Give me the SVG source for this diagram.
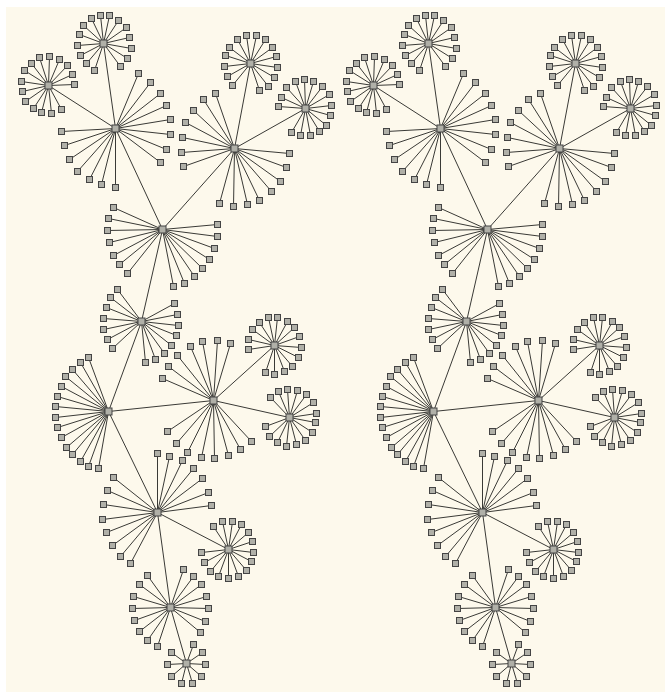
<svg xmlns="http://www.w3.org/2000/svg" xmlns:xlink="http://www.w3.org/1999/xlink" width="665" height="692" viewBox="0 0 665 692">
<style>
.bg{fill:#fdf9ec}
.e{fill:none;stroke:#3a3a36;stroke-width:1}
.n{fill:#b0b0a8;stroke:#444444;stroke-width:1}
</style>
<defs>
<rect id="q" class="n" x="-3" y="-3" width="6" height="6"/>
<rect id="h" class="n" x="-3.5" y="-3.5" width="7" height="7"/>
<g id="tree" transform="translate(0.5,0.5)">
<g id="connectors" class="e">
<path d="M115 128L48 85M115 128L103 43M115 128L162 229M162 229L234 148M234 148L250 63M234 148L305 108M162 229L141 321M141 321L108 411M108 411L213 400M213 400L274 345M213 400L289 417M108 411L157 512M157 512L228 549M157 512L170 607M170 607L186 663"/>
<path d="M115 128L138 73M115 128L150 82M115 128L160 93M115 128L166 105M115 128L170 119M115 128L170 134M115 128L166 149M115 128L160 162M115 128L115 187M115 128L101 184M115 128L89 179M115 128L77 171M115 128L69 159M115 128L64 145M115 128L61 131"/>
<path d="M103 43L100 15M103 43L109 15M103 43L118 20M103 43L126 27M103 43L129 37M103 43L131 48M103 43L127 58M103 43L120 66M103 43L94 70M103 43L86 63M103 43L80 55M103 43L77 45M103 43L79 34M103 43L83 25M103 43L91 18"/>
<path d="M48 85L39 57M48 85L49 56M48 85L59 59M48 85L67 65M48 85L72 74M48 85L74 84M48 85L61 109M48 85L51 113M48 85L41 112M48 85L33 108M48 85L25 101M48 85L22 91M48 85L21 81M48 85L24 70M48 85L31 63"/>
<path d="M162 229L113 207M162 229L108 218M162 229L107 230M162 229L109 242M162 229L113 255M162 229L119 264M162 229L127 273M162 229L217 224M162 229L217 236M162 229L214 248M162 229L209 259M162 229L202 268M162 229L194 276M162 229L184 283M162 229L173 286"/>
<path d="M234 148L215 93M234 148L203 99M234 148L193 110M234 148L185 122M234 148L182 137M234 148L181 152M234 148L183 166M234 148L289 153M234 148L286 167M234 148L280 181M234 148L271 191M234 148L259 200M234 148L247 204M234 148L233 206M234 148L219 203"/>
<path d="M250 63L237 39M250 63L246 35M250 63L256 35M250 63L265 39M250 63L272 47M250 63L276 56M250 63L277 67M250 63L274 77M250 63L268 86M250 63L259 90M250 63L232 85M250 63L227 76M250 63L224 66M250 63L225 55M250 63L229 47"/>
<path d="M305 108L286 87M305 108L295 81M305 108L304 79M305 108L313 81M305 108L322 86M305 108L329 94M305 108L331 105M305 108L330 115M305 108L326 125M305 108L319 131M305 108L310 135M305 108L300 135M305 108L291 132M305 108L278 106M305 108L281 97"/>
<path d="M141 321L117 289M141 321L110 297M141 321L106 307M141 321L103 318M141 321L103 329M141 321L107 339M141 321L112 348M141 321L174 303M141 321L177 314M141 321L178 325M141 321L176 335M141 321L171 345M141 321L164 353M141 321L155 359M141 321L145 362"/>
<path d="M108 411L88 357M108 411L80 362M108 411L72 369M108 411L65 376M108 411L61 386M108 411L57 396M108 411L55 406M108 411L55 417M108 411L57 427M108 411L61 437M108 411L66 447M108 411L72 454M108 411L80 461M108 411L88 466M108 411L98 468"/>
<path d="M213 400L162 378M213 400L168 366M213 400L177 355M213 400L190 346M213 400L202 341M213 400L217 340M213 400L230 343M213 400L167 431M213 400L176 443M213 400L187 452M213 400L201 457M213 400L214 458M213 400L228 455M213 400L240 449M213 400L251 441"/>
<path d="M274 345L248 339M274 345L248 349M274 345L252 329M274 345L259 322M274 345L268 317M274 345L277 317M274 345L287 321M274 345L294 327M274 345L299 336M274 345L301 347M274 345L298 357M274 345L292 366M274 345L284 371M274 345L274 374M274 345L265 372"/>
<path d="M289 417L270 397M289 417L278 391M289 417L287 389M289 417L297 390M289 417L306 394M289 417L313 402M289 417L316 413M289 417L315 422M289 417L312 432M289 417L305 440M289 417L296 444M289 417L286 446M289 417L277 442M289 417L269 436M289 417L265 426"/>
<path d="M157 512L157 453M157 512L169 456M157 512L182 460M157 512L193 468M157 512L202 478M157 512L208 492M157 512L211 505M157 512L113 477M157 512L107 490M157 512L103 504M157 512L102 519M157 512L106 532M157 512L112 545M157 512L120 556M157 512L130 563"/>
<path d="M228 549L213 526M228 549L222 521M228 549L232 521M228 549L241 524M228 549L248 532M228 549L252 541M228 549L253 552M228 549L251 561M228 549L246 570M228 549L238 576M228 549L228 578M228 549L218 576M228 549L210 571M228 549L204 562M228 549L201 552"/>
<path d="M170 607L183 569M170 607L193 576M170 607L201 584M170 607L206 596M170 607L208 608M170 607L205 621M170 607L200 632M170 607L147 575M170 607L139 584M170 607L133 596M170 607L132 608M170 607L134 620M170 607L139 631M170 607L147 640M170 607L157 646"/>
<path d="M186 663L193 644M186 663L202 652M186 663L205 664M186 663L201 676M186 663L192 683M186 663L181 683M186 663L171 676M186 663L167 664M186 663L171 652"/>
</g>
<g id="nodes">
<g id="A"><use href="#h" x="115" y="128"/><use href="#q" x="138" y="73"/><use href="#q" x="150" y="82"/><use href="#q" x="160" y="93"/><use href="#q" x="166" y="105"/><use href="#q" x="170" y="119"/><use href="#q" x="170" y="134"/><use href="#q" x="166" y="149"/><use href="#q" x="160" y="162"/><use href="#q" x="115" y="187"/><use href="#q" x="101" y="184"/><use href="#q" x="89" y="179"/><use href="#q" x="77" y="171"/><use href="#q" x="69" y="159"/><use href="#q" x="64" y="145"/><use href="#q" x="61" y="131"/></g>
<g id="B2"><use href="#h" x="103" y="43"/><use href="#q" x="100" y="15"/><use href="#q" x="109" y="15"/><use href="#q" x="118" y="20"/><use href="#q" x="126" y="27"/><use href="#q" x="129" y="37"/><use href="#q" x="131" y="48"/><use href="#q" x="127" y="58"/><use href="#q" x="120" y="66"/><use href="#q" x="94" y="70"/><use href="#q" x="86" y="63"/><use href="#q" x="80" y="55"/><use href="#q" x="77" y="45"/><use href="#q" x="79" y="34"/><use href="#q" x="83" y="25"/><use href="#q" x="91" y="18"/></g>
<g id="B1"><use href="#h" x="48" y="85"/><use href="#q" x="39" y="57"/><use href="#q" x="49" y="56"/><use href="#q" x="59" y="59"/><use href="#q" x="67" y="65"/><use href="#q" x="72" y="74"/><use href="#q" x="74" y="84"/><use href="#q" x="61" y="109"/><use href="#q" x="51" y="113"/><use href="#q" x="41" y="112"/><use href="#q" x="33" y="108"/><use href="#q" x="25" y="101"/><use href="#q" x="22" y="91"/><use href="#q" x="21" y="81"/><use href="#q" x="24" y="70"/><use href="#q" x="31" y="63"/></g>
<g id="C"><use href="#h" x="162" y="229"/><use href="#q" x="113" y="207"/><use href="#q" x="108" y="218"/><use href="#q" x="107" y="230"/><use href="#q" x="109" y="242"/><use href="#q" x="113" y="255"/><use href="#q" x="119" y="264"/><use href="#q" x="127" y="273"/><use href="#q" x="217" y="224"/><use href="#q" x="217" y="236"/><use href="#q" x="214" y="248"/><use href="#q" x="209" y="259"/><use href="#q" x="202" y="268"/><use href="#q" x="194" y="276"/><use href="#q" x="184" y="283"/><use href="#q" x="173" y="286"/></g>
<g id="D"><use href="#h" x="234" y="148"/><use href="#q" x="215" y="93"/><use href="#q" x="203" y="99"/><use href="#q" x="193" y="110"/><use href="#q" x="185" y="122"/><use href="#q" x="182" y="137"/><use href="#q" x="181" y="152"/><use href="#q" x="183" y="166"/><use href="#q" x="289" y="153"/><use href="#q" x="286" y="167"/><use href="#q" x="280" y="181"/><use href="#q" x="271" y="191"/><use href="#q" x="259" y="200"/><use href="#q" x="247" y="204"/><use href="#q" x="233" y="206"/><use href="#q" x="219" y="203"/></g>
<g id="E1"><use href="#h" x="250" y="63"/><use href="#q" x="237" y="39"/><use href="#q" x="246" y="35"/><use href="#q" x="256" y="35"/><use href="#q" x="265" y="39"/><use href="#q" x="272" y="47"/><use href="#q" x="276" y="56"/><use href="#q" x="277" y="67"/><use href="#q" x="274" y="77"/><use href="#q" x="268" y="86"/><use href="#q" x="259" y="90"/><use href="#q" x="232" y="85"/><use href="#q" x="227" y="76"/><use href="#q" x="224" y="66"/><use href="#q" x="225" y="55"/><use href="#q" x="229" y="47"/></g>
<g id="E2"><use href="#h" x="305" y="108"/><use href="#q" x="286" y="87"/><use href="#q" x="295" y="81"/><use href="#q" x="304" y="79"/><use href="#q" x="313" y="81"/><use href="#q" x="322" y="86"/><use href="#q" x="329" y="94"/><use href="#q" x="331" y="105"/><use href="#q" x="330" y="115"/><use href="#q" x="326" y="125"/><use href="#q" x="319" y="131"/><use href="#q" x="310" y="135"/><use href="#q" x="300" y="135"/><use href="#q" x="291" y="132"/><use href="#q" x="278" y="106"/><use href="#q" x="281" y="97"/></g>
<g id="F"><use href="#h" x="141" y="321"/><use href="#q" x="117" y="289"/><use href="#q" x="110" y="297"/><use href="#q" x="106" y="307"/><use href="#q" x="103" y="318"/><use href="#q" x="103" y="329"/><use href="#q" x="107" y="339"/><use href="#q" x="112" y="348"/><use href="#q" x="174" y="303"/><use href="#q" x="177" y="314"/><use href="#q" x="178" y="325"/><use href="#q" x="176" y="335"/><use href="#q" x="171" y="345"/><use href="#q" x="164" y="353"/><use href="#q" x="155" y="359"/><use href="#q" x="145" y="362"/></g>
<g id="G"><use href="#h" x="108" y="411"/><use href="#q" x="88" y="357"/><use href="#q" x="80" y="362"/><use href="#q" x="72" y="369"/><use href="#q" x="65" y="376"/><use href="#q" x="61" y="386"/><use href="#q" x="57" y="396"/><use href="#q" x="55" y="406"/><use href="#q" x="55" y="417"/><use href="#q" x="57" y="427"/><use href="#q" x="61" y="437"/><use href="#q" x="66" y="447"/><use href="#q" x="72" y="454"/><use href="#q" x="80" y="461"/><use href="#q" x="88" y="466"/><use href="#q" x="98" y="468"/></g>
<g id="H"><use href="#h" x="213" y="400"/><use href="#q" x="162" y="378"/><use href="#q" x="168" y="366"/><use href="#q" x="177" y="355"/><use href="#q" x="190" y="346"/><use href="#q" x="202" y="341"/><use href="#q" x="217" y="340"/><use href="#q" x="230" y="343"/><use href="#q" x="167" y="431"/><use href="#q" x="176" y="443"/><use href="#q" x="187" y="452"/><use href="#q" x="201" y="457"/><use href="#q" x="214" y="458"/><use href="#q" x="228" y="455"/><use href="#q" x="240" y="449"/><use href="#q" x="251" y="441"/></g>
<g id="J1"><use href="#h" x="274" y="345"/><use href="#q" x="248" y="339"/><use href="#q" x="248" y="349"/><use href="#q" x="252" y="329"/><use href="#q" x="259" y="322"/><use href="#q" x="268" y="317"/><use href="#q" x="277" y="317"/><use href="#q" x="287" y="321"/><use href="#q" x="294" y="327"/><use href="#q" x="299" y="336"/><use href="#q" x="301" y="347"/><use href="#q" x="298" y="357"/><use href="#q" x="292" y="366"/><use href="#q" x="284" y="371"/><use href="#q" x="274" y="374"/><use href="#q" x="265" y="372"/></g>
<g id="J2"><use href="#h" x="289" y="417"/><use href="#q" x="270" y="397"/><use href="#q" x="278" y="391"/><use href="#q" x="287" y="389"/><use href="#q" x="297" y="390"/><use href="#q" x="306" y="394"/><use href="#q" x="313" y="402"/><use href="#q" x="316" y="413"/><use href="#q" x="315" y="422"/><use href="#q" x="312" y="432"/><use href="#q" x="305" y="440"/><use href="#q" x="296" y="444"/><use href="#q" x="286" y="446"/><use href="#q" x="277" y="442"/><use href="#q" x="269" y="436"/><use href="#q" x="265" y="426"/></g>
<g id="I"><use href="#h" x="157" y="512"/><use href="#q" x="157" y="453"/><use href="#q" x="169" y="456"/><use href="#q" x="182" y="460"/><use href="#q" x="193" y="468"/><use href="#q" x="202" y="478"/><use href="#q" x="208" y="492"/><use href="#q" x="211" y="505"/><use href="#q" x="113" y="477"/><use href="#q" x="107" y="490"/><use href="#q" x="103" y="504"/><use href="#q" x="102" y="519"/><use href="#q" x="106" y="532"/><use href="#q" x="112" y="545"/><use href="#q" x="120" y="556"/><use href="#q" x="130" y="563"/></g>
<g id="K"><use href="#h" x="228" y="549"/><use href="#q" x="213" y="526"/><use href="#q" x="222" y="521"/><use href="#q" x="232" y="521"/><use href="#q" x="241" y="524"/><use href="#q" x="248" y="532"/><use href="#q" x="252" y="541"/><use href="#q" x="253" y="552"/><use href="#q" x="251" y="561"/><use href="#q" x="246" y="570"/><use href="#q" x="238" y="576"/><use href="#q" x="228" y="578"/><use href="#q" x="218" y="576"/><use href="#q" x="210" y="571"/><use href="#q" x="204" y="562"/><use href="#q" x="201" y="552"/></g>
<g id="L"><use href="#h" x="170" y="607"/><use href="#q" x="183" y="569"/><use href="#q" x="193" y="576"/><use href="#q" x="201" y="584"/><use href="#q" x="206" y="596"/><use href="#q" x="208" y="608"/><use href="#q" x="205" y="621"/><use href="#q" x="200" y="632"/><use href="#q" x="147" y="575"/><use href="#q" x="139" y="584"/><use href="#q" x="133" y="596"/><use href="#q" x="132" y="608"/><use href="#q" x="134" y="620"/><use href="#q" x="139" y="631"/><use href="#q" x="147" y="640"/><use href="#q" x="157" y="646"/></g>
<g id="M"><use href="#h" x="186" y="663"/><use href="#q" x="193" y="644"/><use href="#q" x="202" y="652"/><use href="#q" x="205" y="664"/><use href="#q" x="201" y="676"/><use href="#q" x="192" y="683"/><use href="#q" x="181" y="683"/><use href="#q" x="171" y="676"/><use href="#q" x="167" y="664"/><use href="#q" x="171" y="652"/></g>
</g>
</g>
</defs>
<rect width="665" height="692" fill="#ffffff"/>
<rect class="bg" x="6" y="7" width="659" height="685"/>
<use id="left-copy" href="#tree"/>
<use id="right-copy" href="#tree" x="325"/>
</svg>
